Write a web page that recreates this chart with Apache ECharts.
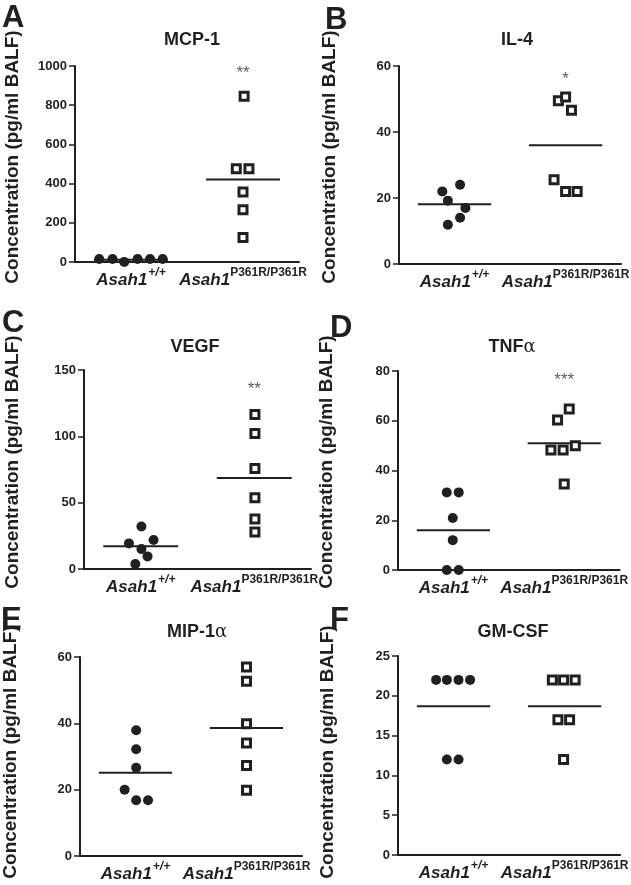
<!DOCTYPE html>
<html>
<head>
<meta charset="utf-8">
<script src="https://cdn.jsdelivr.net/npm/echarts@6/dist/echarts.min.js"></script>
<style>html,body{margin:0;padding:0;background:#fff;}#c{width:631px;height:885px;}</style>
</head>
<body>
<div id="c"></div>
<script>
// ---------- data ----------
const categories = ['Asah1+/+', 'Asah1P361R/P361R'];

const mcp1Wt = [15, 15, 0, 15, 15, 15];
const mcp1WtJitter = [-0.284, -0.165, -0.06, 0.059, 0.17, 0.283];
const mcp1Mut = [846, 476, 476, 357, 267, 125];
const mcp1MutJitter = [0.01, -0.06, 0.053, 0, 0, 0];
const mcp1Means = [12, 421];
const mcp1Ticks = [0, 200, 400, 600, 800, 1000];

const il4Wt = [22.0, 24.0, 19.2, 17.0, 14.0, 11.9];
const il4WtJitter = [-0.11, 0.05, -0.06, 0.098, 0.05, -0.06];
const il4Mut = [49.5, 50.6, 46.6, 25.5, 22.0, 22.0];
const il4MutJitter = [-0.065, 0, 0.053, -0.104, 0, 0.104];
const il4Means = [18.1, 36.0];
const il4Ticks = [0, 20, 40, 60];

const vegfWt = [32.1, 19.3, 21.8, 15.0, 9.5, 3.8];
const vegfWtJitter = [0.006, -0.104, 0.113, 0.006, 0.06, -0.048];
const vegfMut = [116.4, 102.1, 75.7, 53.7, 37.6, 27.8];
const vegfMutJitter = [0.006, 0.006, 0.006, 0.006, 0.006, 0.006];
const vegfMeans = [17.1, 68.5];
const vegfTicks = [0, 50, 100, 150];

const tnfWt = [31.2, 31.2, 20.9, 12.0, 0, 0];
const tnfWtJitter = [-0.06, 0.048, -0.006, -0.006, -0.06, 0.048];
const tnfMut = [64.7, 60.3, 50.0, 48.2, 48.2, 34.6];
const tnfMutJitter = [0.045, -0.06, 0.1, -0.01, -0.12, 0];
const tnfMeans = [16.0, 51.0];
const tnfTicks = [0, 20, 40, 60, 80];

const mipWt = [37.9, 32.2, 26.6, 20.0, 16.8, 16.8];
const mipWtJitter = [0.006, 0.006, 0.006, -0.098, 0.006, 0.113];
const mipMut = [57.0, 52.7, 39.9, 34.1, 27.3, 19.8];
const mipMutJitter = [0, 0, 0, 0, 0, 0];
const mipMeans = [25.1, 38.6];
const mipTicks = [0, 20, 40, 60];

const gmWt = [22, 22, 22, 22, 12, 12];
const gmWtJitter = [-0.157, -0.06, 0.045, 0.149, -0.06, 0.045];
const gmMut = [22, 22, 22, 17, 17, 12];
const gmMutJitter = [-0.11, -0.009, 0.095, -0.06, 0.045, -0.009];
const gmMeans = [18.7, 18.7];
const gmTicks = [0, 5, 10, 15, 20, 25];

const panelLetters = ['A', 'B', 'C', 'D', 'E', 'F'];
const panelTitles = ['MCP-1', 'IL-4', 'VEGF', 'TNF{g|α}', 'MIP-1{g|α}', 'GM-CSF'];
const significance = ['**', '*', '**', '***', '', ''];
const significanceY = [985, 57.3, 138.7, 78, 0, 0];
const yAxisTitle = 'Concentration (pg/ml BALF)';

// ---------- layout ----------
const INK = '#231f20';
const FONT = '"Liberation Sans", Arial, Helvetica, sans-serif';
const grids = [
  {left: 75, top: 66, width: 224, height: 196},
  {left: 399, top: 66, width: 228, height: 198},
  {left: 84, top: 370, width: 227, height: 199},
  {left: 398, top: 371, width: 222, height: 199},
  {left: 80, top: 657, width: 222, height: 199},
  {left: 398, top: 656, width: 224, height: 199}
];
const titlePos = [[187, 35], [512, 35], [190, 342], [507, 342], [192, 627], [508, 627]];
const letterPos = [[2, 3], [325, 5], [2, 308], [330, 313], [1, 605], [330, 605]];
const yTitlePos = [[13, 157], [330, 157], [13, 462], [327, 462], [11, 752], [328, 752]];

const panels = [
  {wt: mcp1Wt, wtJ: mcp1WtJitter, mut: mcp1Mut, mutJ: mcp1MutJitter, means: mcp1Means, ticks: mcp1Ticks},
  {wt: il4Wt, wtJ: il4WtJitter, mut: il4Mut, mutJ: il4MutJitter, means: il4Means, ticks: il4Ticks},
  {wt: vegfWt, wtJ: vegfWtJitter, mut: vegfMut, mutJ: vegfMutJitter, means: vegfMeans, ticks: vegfTicks},
  {wt: tnfWt, wtJ: tnfWtJitter, mut: tnfMut, mutJ: tnfMutJitter, means: tnfMeans, ticks: tnfTicks},
  {wt: mipWt, wtJ: mipWtJitter, mut: mipMut, mutJ: mipMutJitter, means: mipMeans, ticks: mipTicks},
  {wt: gmWt, wtJ: gmWtJitter, mut: gmMut, mutJ: gmMutJitter, means: gmMeans, ticks: gmTicks}
];

const option = {
  animation: false,
  backgroundColor: '#fff',
  grid: [], xAxis: [], yAxis: [], series: [], graphic: []
};

const catRich = {
  a: {fontFamily: FONT, fontSize: 17, fontWeight: 'bold', fontStyle: 'italic', color: INK, lineHeight: 22, verticalAlign: 'bottom'},
  s: {fontFamily: FONT, fontSize: 12, fontWeight: 'bold', fontStyle: 'italic', color: INK, lineHeight: 22, verticalAlign: 'top', padding: [0, 0, 0, 1]},
  p: {fontFamily: FONT, fontSize: 12, fontWeight: 'bold', color: INK, lineHeight: 22, verticalAlign: 'top'}
};

panels.forEach((p, i) => {
  option.grid.push(Object.assign({containLabel: false}, grids[i]));
  const t = p.ticks;
  option.xAxis.push({
    type: 'category', gridIndex: i, data: categories, boundaryGap: true,
    axisLine: {lineStyle: {color: INK, width: 2}},
    axisTick: {alignWithLabel: true, length: 5, lineStyle: {color: INK, width: 1.5}},
    axisLabel: {
      margin: 5, interval: 0, rich: catRich,
      formatter: (v, idx) => idx === 0 ? '{a|Asah1}{s|+/+}' : '{a|Asah1}{p|P361R/P361R}'
    }
  });
  option.xAxis.push({
    type: 'value', gridIndex: i, min: 0.5, max: 2.5, show: false
  });
  option.yAxis.push({
    type: 'value', gridIndex: i, min: t[0], max: t[t.length - 1], interval: t[1] - t[0],
    splitLine: {show: false},
    axisLine: {show: true, lineStyle: {color: INK, width: 2}},
    axisTick: {show: true, length: 6, lineStyle: {color: INK, width: 1.5}},
    axisLabel: {margin: 8, fontFamily: FONT, fontSize: 13, fontWeight: 'bold', color: INK,
      formatter: v => String(v)}
  });
  const xi = 2 * i + 1;
  option.series.push({
    type: 'scatter', xAxisIndex: xi, yAxisIndex: i, symbol: 'circle', symbolSize: 10,
    itemStyle: {color: INK, opacity: 1}, z: 3,
    data: p.wt.map((v, k) => [1 + p.wtJ[k], v])
  });
  option.series.push({
    type: 'scatter', xAxisIndex: xi, yAxisIndex: i, symbol: 'rect', symbolSize: 8,
    itemStyle: {color: '#fff', borderColor: INK, borderWidth: 3, opacity: 1}, z: 3,
    data: p.mut.map((v, k) => [2 + p.mutJ[k], v])
  });
  p.means.forEach((m, g) => {
    option.series.push({
      type: 'line', xAxisIndex: xi, yAxisIndex: i, symbol: 'none', silent: true,
      lineStyle: {color: INK, width: 2}, z: 1,
      data: [[g + 1 - 0.33, m], [g + 1 + 0.33, m]]
    });
  });
  if (significance[i]) {
    option.series.push({
      type: 'scatter', xAxisIndex: xi, yAxisIndex: i, symbolSize: 0, silent: true,
      itemStyle: {color: 'rgba(0,0,0,0)'},
      label: {show: true, position: 'inside', offset: [0, 4], formatter: significance[i],
        fontFamily: FONT, fontSize: 17, color: '#333'},
      data: [[2, significanceY[i]]]
    });
  }
  option.graphic.push({
    type: 'text', x: letterPos[i][0], y: letterPos[i][1], silent: true,
    style: {text: panelLetters[i], font: 'bold 31px ' + FONT, fill: INK, align: 'left', verticalAlign: 'top'}
  });
  option.graphic.push({
    type: 'text', x: yTitlePos[i][0], y: yTitlePos[i][1], rotation: Math.PI / 2, silent: true,
    style: {text: yAxisTitle, font: 'bold 19px ' + FONT, fill: INK, align: 'center', verticalAlign: 'middle'}
  });
});

option.title = panelTitles.map((tt, i) => ({
  text: tt, left: titlePos[i][0], top: titlePos[i][1], textAlign: 'center', textVerticalAlign: 'middle',
  textStyle: {fontFamily: FONT, fontSize: 18, fontWeight: 'bold', color: INK,
    rich: {g: {fontFamily: '"DejaVu Serif", serif', fontSize: 18, fontWeight: 'normal', color: INK}}}
}));

const chart = echarts.init(document.getElementById('c'), null, {renderer: 'canvas'});
chart.setOption(option);
</script>
</body>
</html>
